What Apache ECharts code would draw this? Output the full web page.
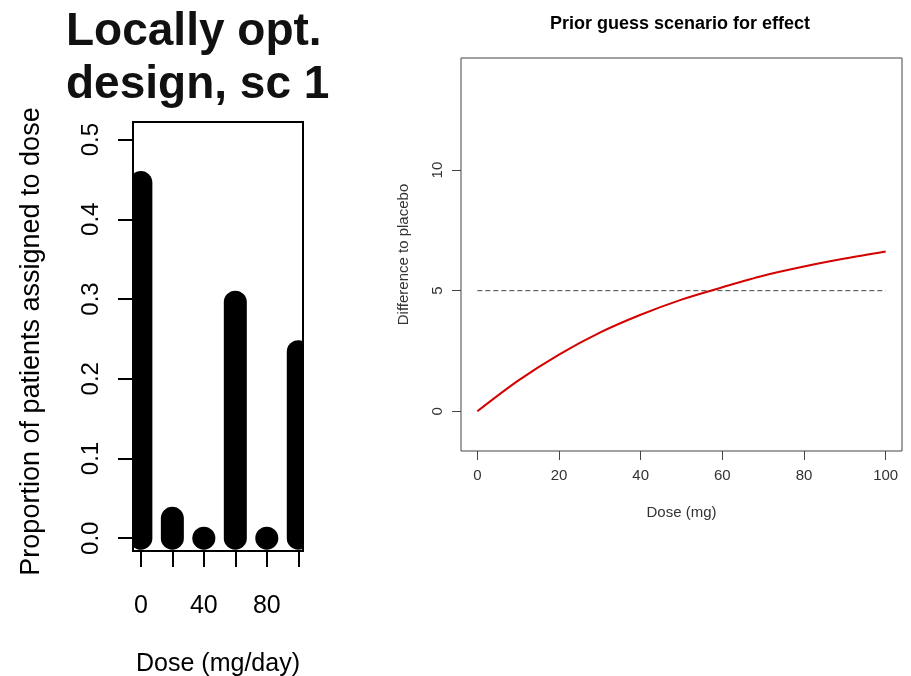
<!DOCTYPE html>
<html>
	<head>
		<meta charset="utf-8">
		<title>Locally optimal design</title>
		<script src="https://cdn.jsdelivr.net/npm/echarts@6.0.0/dist/echarts.min.js"></script>
		<style>
			html, body { margin: 0; padding: 0; background: #fff; }
			#main { width: 911px; height: 676px; }
		</style>
	</head>
	<body>
		<div id="main"></div>
		<script type="text/javascript">
			// left panel: design weights per dose
			var designDoses = [0, 20, 40, 60, 80, 100];
			var designProps = [0.446, 0.025, 0, 0.296, 0, 0.234];
			var designTicksX = [0, 20, 40, 60, 80, 100];
			var designLabelsX = [0, 40, 80];
			var designTicksY = [0, 0.1, 0.2, 0.3, 0.4, 0.5];

			// right panel: prior guess curve
			var effectDoses = [0, 10, 20, 30, 40, 50, 60, 70, 80, 90, 100];
			var effectValues = [0, 1.27, 2.35, 3.26, 4.0, 4.63, 5.14, 5.62, 6.0, 6.33, 6.62];
			var targetDelta = 5;
			var effectTicksX = [0, 20, 40, 60, 80, 100];
			var effectTicksY = [0, 5, 10];

			var chart = echarts.init(document.getElementById('main'));

			var designData = designDoses.map(function (d, i) { return [d, designProps[i]]; });
			var effectData = effectDoses.map(function (d, i) { return [d, effectValues[i]]; });
			var targetData = [[effectDoses[0], targetDelta], [effectDoses[effectDoses.length - 1], targetDelta]];

			var barW = 23;

			var option = {
				animation: false,
				backgroundColor: '#fff',
				textStyle: { fontFamily: 'Liberation Sans, Arial, sans-serif' },
				graphic: [
					{
						type: 'text',
						left: 66, top: 6,
						style: {
							text: 'Locally opt.\ndesign, sc 1',
							font: 'bold 46px "Liberation Sans", Arial, sans-serif',
							lineHeight: 53,
							fill: '#111'
						}
					},
					{
						type: 'text',
						x: 680, y: 24,
						style: {
							text: 'Prior guess scenario for effect',
							font: 'bold 18px "Liberation Sans", Arial, sans-serif',
							textAlign: 'center',
							textVerticalAlign: 'middle',
							fill: '#000'
						}
					}
				],
				grid: [
					{ left: 133, right: 608, top: 122, bottom: 125, outerBoundsMode: 'none', containLabel: false, show: true, borderColor: '#000', borderWidth: 2, backgroundColor: '#fff' },
					{ left: 461, right: 9, top: 58, bottom: 225, outerBoundsMode: 'none', containLabel: false, show: true, borderColor: '#444', borderWidth: 1, backgroundColor: '#fff' }
				],
				xAxis: [
					{
						gridIndex: 0, type: 'value', min: -5, max: 103,
						splitLine: { show: false },
						axisLine: { show: false, onZero: false },
						axisTick: { customValues: designTicksX, length: 16, lineStyle: { color: '#000', width: 2 } },
						axisLabel: { customValues: designLabelsX, margin: 43, fontSize: 25, color: '#000' },
						name: 'Dose (mg/day)', nameLocation: 'middle', nameGap: 101,
						nameTextStyle: { fontSize: 25, color: '#000' }
					},
					{
						gridIndex: 1, type: 'value', min: -4, max: 104,
						splitLine: { show: false },
						axisLine: { show: false, onZero: false },
						axisTick: { customValues: effectTicksX, length: 9, lineStyle: { color: '#444' } },
						axisLabel: { customValues: effectTicksX, margin: 17, fontSize: 15, color: '#333' },
						name: 'Dose (mg)', nameLocation: 'middle', nameGap: 54,
						nameTextStyle: { fontSize: 15, color: '#333' }
					}
				],
				yAxis: [
					{
						gridIndex: 0, type: 'value', min: -0.016, max: 0.522,
						splitLine: { show: false },
						axisLine: { show: false, onZero: false },
						axisTick: { customValues: designTicksY, length: 15, lineStyle: { color: '#000', width: 2 } },
						axisLabel: {
							customValues: designTicksY, rotate: 90, margin: 30, fontSize: 24, color: '#000',
							formatter: function (v) { return v.toFixed(1); }
						},
						name: 'Proportion of patients assigned to dose', nameLocation: 'middle', nameGap: 88,
						nameTextStyle: { fontSize: 27, color: '#000', padding: [0, 10, 0, 0] }
					},
					{
						gridIndex: 1, type: 'value', min: -1.65, max: 14.65,
						splitLine: { show: false },
						axisLine: { show: false, onZero: false },
						axisTick: { customValues: effectTicksY, length: 9, lineStyle: { color: '#444' } },
						axisLabel: { customValues: effectTicksY, rotate: 90, margin: 16, fontSize: 15, color: '#333' },
						name: 'Difference to placebo', nameLocation: 'middle', nameGap: 50,
						nameTextStyle: { fontSize: 15, color: '#333' }
					}
				],
				series: [
					{
						// thick "type h" bars with round ends
						type: 'custom',
						xAxisIndex: 0, yAxisIndex: 0,
						data: designData,
						encode: { x: 0, y: 1 },
						renderItem: function (params, api) {
							var top = api.coord([api.value(0), api.value(1)]);
							var base = api.coord([api.value(0), 0]);
							var cs = params.coordSys;
							return {
								type: 'rect',
								shape: {
									x: top[0] - barW / 2,
									y: top[1] - barW / 2,
									width: barW,
									height: base[1] - top[1] + barW,
									r: barW / 2
								},
								style: { fill: '#000' },
								clipPath: { type: 'rect', shape: { x: cs.x, y: cs.y, width: cs.width, height: cs.height } }
							};
						}
					},
					{
						type: 'line',
						xAxisIndex: 1, yAxisIndex: 1,
						data: targetData,
						showSymbol: false,
						lineStyle: { color: '#444', width: 1, type: [5, 3] }
					},
					{
						type: 'line',
						xAxisIndex: 1, yAxisIndex: 1,
						data: effectData,
						smooth: 0.3,
						showSymbol: false,
						lineStyle: { color: '#d40000', width: 2 }
					}
				]
			};

			chart.setOption(option);
		</script>
	</body>
</html>
